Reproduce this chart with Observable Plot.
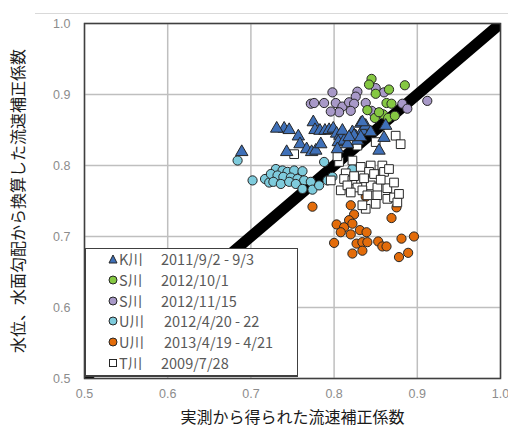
<!DOCTYPE html>
<html><head><meta charset="utf-8">
<script src="https://cdn.jsdelivr.net/npm/d3@7"></script>
<script src="https://cdn.jsdelivr.net/npm/@observablehq/plot@0.6"></script>
<style>
body{margin:0;background:#fff;}
#wrap{position:relative;width:508px;height:431px;overflow:hidden;}
#topline{position:absolute;left:35px;top:13px;width:473px;height:1px;background:#d9d9d9;}
#legend{position:absolute;left:85px;top:248px;width:213px;height:129px;background:#fff;border:1px solid #404040;border-bottom-width:2px;box-sizing:border-box;font-family:"Noto Sans CJK JP",sans-serif;font-size:14.5px;color:#595959;}
.row{position:absolute;left:0;height:20px;line-height:20px;white-space:pre;}
.row svg{position:absolute;left:22px;top:5px;}
.row .nm{position:absolute;left:33px;}
.row .dt{position:absolute;left:75px;}
</style></head>
<body><div id="wrap"><div id="topline"></div><div id="chart"></div><div id="legend"></div></div>
<script>
// ---- data ----
const xTicks = [0.5, 0.6, 0.7, 0.8, 0.9, 1.0];
const yTicks = [0.5, 0.6, 0.7, 0.8, 0.9, 1.0];
const xLabel = "実測から得られた流速補正係数";
const yLabel = "水位、水面勾配から換算した流速補正係数";
const diagonal = [0.5, 1.0];

const seriesNames = ["K川", "S川", "S川", "U川", "U川", "T川"];
const seriesDates = ["2011/9/2 - 9/3", "2012/10/1", "2012/11/15", "2012/4/20 - 22", "2013/4/19 - 4/21", "2009/7/28"];

const kX = [0.689,0.740,0.746,0.775,0.757,0.777,0.783,0.789,0.794,0.799,0.803,0.807,0.805,0.812,0.759,0.767,0.773,0.778,0.784,0.743,0.804,0.810,0.822,0.826,0.832,0.834,0.838,0.844,0.860,0.862,0.828,0.834,0.854,0.816,0.824,0.818,0.832,0.731];
const kY = [0.819,0.852,0.850,0.861,0.841,0.850,0.849,0.849,0.850,0.852,0.845,0.842,0.833,0.835,0.830,0.823,0.819,0.821,0.830,0.819,0.823,0.849,0.847,0.841,0.859,0.849,0.856,0.847,0.839,0.856,0.835,0.861,0.821,0.830,0.842,0.840,0.840,0.852];

const sgX = [0.845,0.842,0.850,0.866,0.885,0.863,0.869,0.840,0.849,0.859,0.865,0.873,0.854];
const sgY = [0.922,0.914,0.901,0.907,0.913,0.888,0.887,0.878,0.867,0.872,0.867,0.870,0.875];

const spX = [0.850,0.860,0.828,0.826,0.798,0.802,0.810,0.818,0.824,0.820,0.806,0.838,0.845,0.882,0.888,0.912,0.772,0.776,0.788,0.796];
const spY = [0.909,0.903,0.904,0.897,0.903,0.888,0.883,0.889,0.887,0.877,0.875,0.888,0.877,0.887,0.880,0.891,0.887,0.888,0.888,0.876];

const ubX = [0.684,0.702,0.717,0.722,0.788,0.730,0.738,0.744,0.752,0.762,0.724,0.732,0.739,0.748,0.756,0.764,0.772,0.727,0.736,0.746,0.754,0.762,0.774,0.782,0.792,0.822,0.798];
const ubY = [0.807,0.779,0.781,0.776,0.805,0.795,0.793,0.791,0.793,0.792,0.788,0.786,0.784,0.783,0.781,0.779,0.777,0.777,0.774,0.777,0.774,0.767,0.766,0.772,0.779,0.795,0.784];

const uoX = [0.774,0.820,0.838,0.824,0.818,0.803,0.812,0.822,0.808,0.820,0.831,0.839,0.800,0.827,0.834,0.840,0.853,0.858,0.863,0.881,0.896,0.822,0.834,0.878,0.889,0.869,0.875];
const uoY = [0.742,0.744,0.756,0.731,0.723,0.717,0.713,0.718,0.706,0.703,0.709,0.706,0.691,0.690,0.692,0.692,0.693,0.686,0.686,0.697,0.700,0.676,0.680,0.671,0.677,0.726,0.741];

const tX = [0.752,0.806,0.796,0.814,0.808,0.874,0.880,0.828,0.850,0.804,0.822,0.844,0.858,0.832,0.842,0.848,0.860,0.866,0.812,0.822,0.816,0.828,0.844,0.852,0.864,0.820,0.834,0.840,0.852,0.864,0.872,0.876,0.850,0.838,0.834,0.824,0.836,0.856,0.872,0.878];
const tY = [0.816,0.805,0.779,0.789,0.765,0.842,0.830,0.828,0.833,0.813,0.807,0.800,0.800,0.798,0.791,0.788,0.791,0.795,0.781,0.779,0.772,0.769,0.772,0.769,0.768,0.762,0.765,0.758,0.758,0.753,0.755,0.748,0.746,0.739,0.744,0.785,0.782,0.780,0.776,0.760];

// ---- styles ----
const colors = ["#3f70b8", "#85c842", "#a899c8", "#7ecbdc", "#e36c0a", "#ffffff"];
const symbols = ["triangle", "circle", "circle", "circle", "circle", "square"];
const radii = [4.6, 4.6, 4.6, 4.6, 4.6, 4.9];
const xs = [kX, sgX, spX, ubX, uoX, tX];
const ys = [kY, sgY, spY, ubY, uoY, tY];
const drawOrder = [3, 4, 5, 2, 1, 0];

const pts = (i) => xs[i].map((x, j) => ({x, y: ys[i][j]}));

const dotMarks = drawOrder.map(i => Plot.dot(pts(i), {
  x: "x", y: "y", symbol: () => symbols[i], r: radii[i],
  fill: colors[i], stroke: "#262626", strokeWidth: 1
}));

const chart = Plot.plot({
  width: 508, height: 431,
  marginLeft: 84, marginRight: 8, marginTop: 23, marginBottom: 53,
  x: {domain: [0.5, 1.0]},
  y: {domain: [0.5, 1.0]},
  symbol: {type: "identity"},
  style: {fontFamily: "'Liberation Sans', sans-serif", fontSize: "12px", background: "transparent"},
  marks: [
    Plot.gridX(xTicks, {stroke: "#bfbfbf", strokeOpacity: 1, strokeWidth: 1.5}),
    Plot.gridY(yTicks, {stroke: "#bfbfbf", strokeOpacity: 1, strokeWidth: 1.5}),
    Plot.line(diagonal, {x: d => d, y: d => d, stroke: "#000", strokeWidth: 11, clip: true}),
    ...dotMarks,
    Plot.frame({stroke: "#404040", strokeWidth: 1.5}),
    Plot.axisX(xTicks, {tickSize: 0, tickPadding: 11, tickFormat: d3.format(".1f"), fill: "#8c8c8c", label: null, fontSize: 12.5}),
    Plot.axisY(yTicks, {tickSize: 0, tickPadding: 14, tickFormat: d3.format(".1f"), fill: "#8c8c8c", label: null, fontSize: 12.5}),
    Plot.text([xLabel], {text: d => d, frameAnchor: "bottom", lineAnchor: "middle", dy: 39, fontSize: 16, fill: "#1a1a1a", fontFamily: "'Noto Sans CJK JP', sans-serif"}),
    Plot.text([yLabel], {text: d => d, frameAnchor: "left", textAnchor: "middle", lineAnchor: "middle", rotate: -90, dx: -66, fontSize: 16, fill: "#1a1a1a", fontFamily: "'Noto Sans CJK JP', sans-serif"})
  ]
});
document.getElementById("chart").appendChild(chart);

// ---- legend ----
const legend = document.getElementById("legend");
const rowTops = [0, 1, 2, 3, 4, 5];
rowTops.forEach(i => {
  const row = document.createElement("div");
  row.className = "row";
  row.style.top = (0 + i * 20.8) + "px";
  let shape;
  if (symbols[i] === "triangle") shape = `<polygon points="5,1 9,9 1,9" fill="${colors[i]}" stroke="#262626" stroke-width="1"/>`;
  else if (symbols[i] === "square") shape = `<rect x="1.5" y="1.5" width="7" height="7" fill="${colors[i]}" stroke="#262626" stroke-width="1"/>`;
  else shape = `<circle cx="5" cy="5" r="4" fill="${colors[i]}" stroke="#262626" stroke-width="1"/>`;
  row.innerHTML = `<svg width="10" height="10">${shape}</svg><span class="nm">${seriesNames[i]}</span><span class="dt" style="left:${i===3||i===4?78:75}px">${seriesDates[i]}</span>`;
  legend.appendChild(row);
});
</script>
</body></html>
